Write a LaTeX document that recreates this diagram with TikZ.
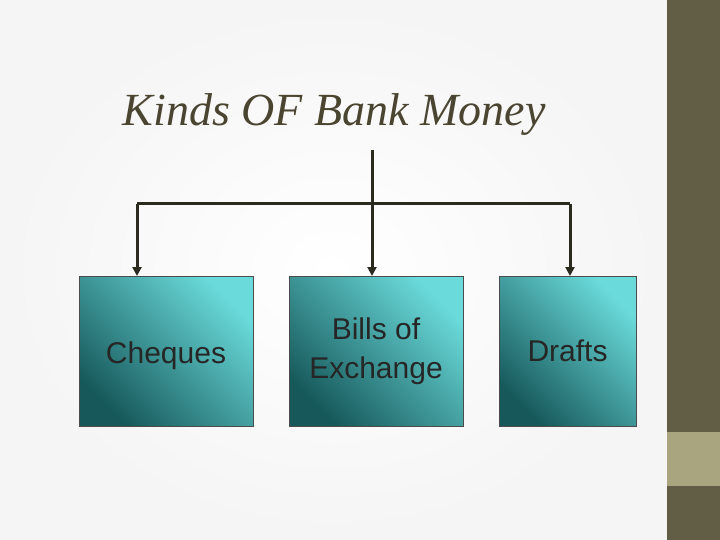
\documentclass[tikz,border=0pt]{standalone}
\usepackage{fontspec}
\setmainfont{Liberation Serif}
\newfontfamily\boxfont{Liberation Sans}
\usetikzlibrary{arrows.meta}
\definecolor{bar}{HTML}{625D45}
\definecolor{barlight}{HTML}{A8A57F}
\definecolor{lineC}{HTML}{2B2A1E}
\definecolor{tealL}{HTML}{6ADADA}
\definecolor{tealD}{HTML}{17595B}
\definecolor{titleC}{HTML}{4A4530}
\begin{document}
\begin{tikzpicture}[x=1pt,y=-1pt,
  box/.style={draw=black!70,line width=0.6pt,minimum width=#1,minimum height=150pt,inner sep=0pt,
    left color=tealD,right color=tealL,shading angle=135,
    font=\boxfont\fontsize{30}{39}\selectfont,text=black!85,align=center},
  conn/.style={draw=lineC,line width=3pt,-{Triangle[length=9pt,width=9pt]}}]
\useasboundingbox (0,0) rectangle (720,540);
\shade[inner color=white,outer color=white!96!black] (0,0) rectangle (667,540);
\fill[bar] (667,0) rectangle (720,540);
\fill[barlight] (667,432) rectangle (720,486);
\node[font=\itshape\fontsize{46}{50}\selectfont,text=titleC] (title) at (334,115) {Kinds OF Bank Money};
\node[box=174pt,text depth=0pt] (c) at (166,351) {\raisebox{-4pt}{Cheques}};
\node[box=174pt] (b) at (376,351) {\raisebox{-4pt}{Bills of}\\\raisebox{-4pt}{Exchange}};
\node[box=137pt] (d) at (567.5,351) {\raisebox{-2pt}{Drafts}};
\coordinate (top) at (372,150);
\coordinate (l) at (137,204);
\coordinate (r) at (570,204);
\draw[draw=lineC,line width=3pt] (l) -- (r);
\draw[conn] (top) -- (372,276);
\draw[conn] (l) -- (137,276);
\draw[conn] (r) -- (570,276);
\end{tikzpicture}
\end{document}
